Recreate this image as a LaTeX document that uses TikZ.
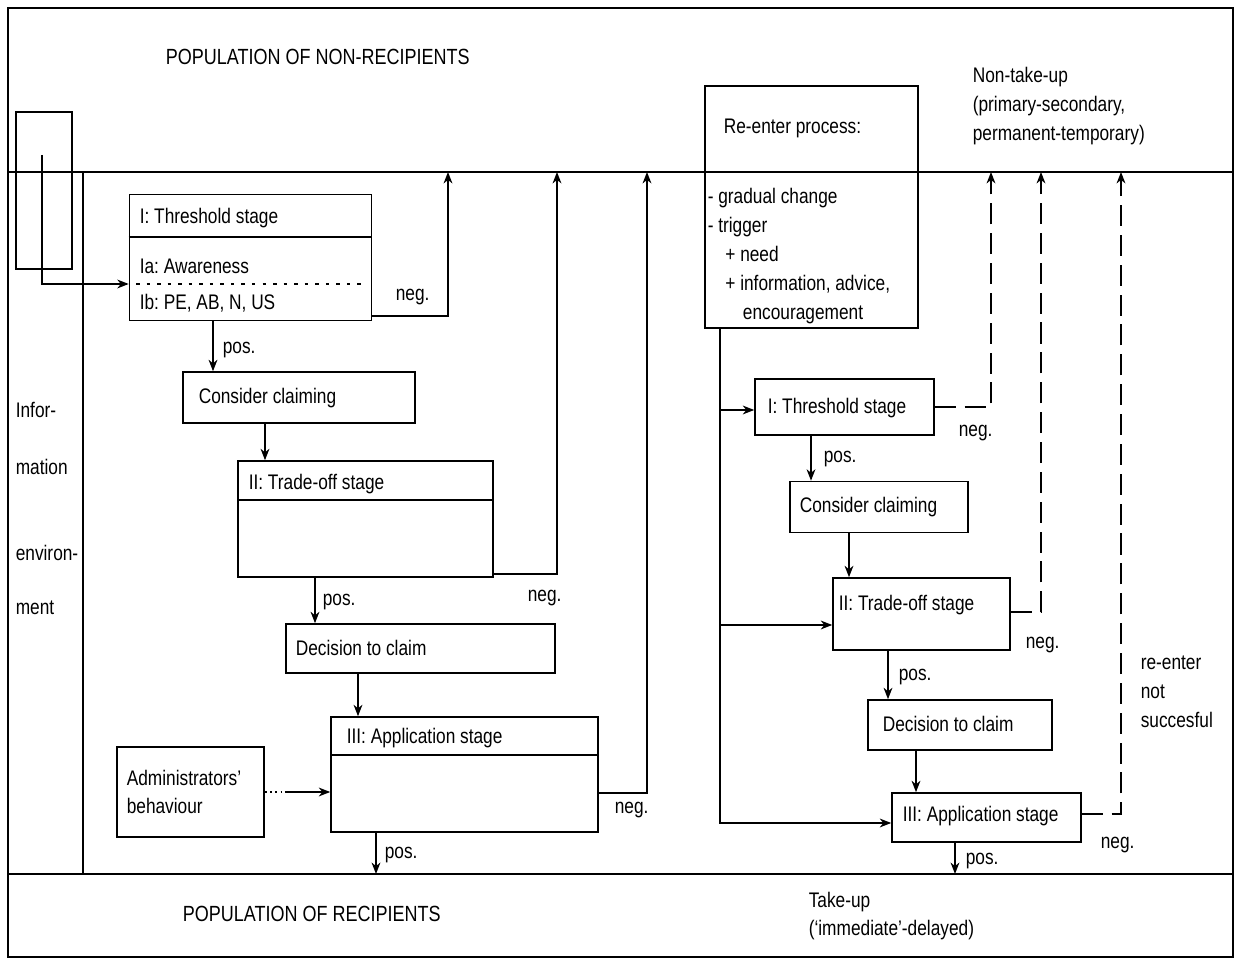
\documentclass[tikz,border=0pt]{standalone}
\usepackage{fontspec}
\setmainfont{Liberation Sans}[FakeStretch=0.82]
\usetikzlibrary{arrows.meta,positioning}

\tikzset{
  stage/.style={draw, inner sep=0pt},
  lbl/.style={anchor=west, inner sep=0pt, align=left},
  arr/.style={-{Stealth[length=6.5pt,width=5pt,inset=2pt]}},
  negline/.style={dash pattern=on 12pt off 5pt},
}

\begin{document}
\frenchspacing
\begin{tikzpicture}[x=0.02cm, y=-0.02cm, line width=0.9pt, font=\fontsize{12}{16.4}\selectfont]

\useasboundingbox (0,0) rectangle (1235,962);

% frame and bands
\draw (8,8) rectangle (1233,957);
\draw (8,172) -- (1233,172);
\draw (8,874) -- (1233,874);
\draw (83,172) -- (83,874);

\node[lbl] (nonrec) at (165,57) {\fontsize{12.5}{15}\selectfont POPULATION OF NON-RECIPIENTS};
\node[lbl] (rec) at (182,914) {\fontsize{12.5}{15}\selectfont POPULATION OF RECIPIENTS};
\node[lbl] (nontake) at (972,106) {Non-take-up\\(primary-secondary,\\permanent-temporary)};
\node[lbl] (takeup) at (808,916) {Take-up\\(`immediate'-delayed)};

% information environment
\node[lbl] (inf1) at (15,410) {Infor-};
\node[lbl] (inf2) at (15,467) {mation};
\node[lbl] (inf3) at (15,553) {environ-};
\node[lbl] (inf4) at (15,608) {ment};
\draw (16,112) rectangle (72,269);
\coordinate (src) at (42,155);

% left process
\node[stage, minimum width=4.84cm, minimum height=2.52cm] (th1) at (250.5,257.5) {};
\draw (th1.west |- 0,237) -- (th1.east |- 0,237);
\draw[dash pattern=on 2pt off 4pt] (136,284) -- (362,284);
\node[lbl] (th1h) at (139,218) {I: Threshold stage};
\node[lbl] (th1a) at (139,266) {Ia: Awareness};
\node[lbl] (th1b) at (139,303) {Ib: PE, AB, N, US};
\draw[arr] (src) |- (th1.west |- 0,284);

\node[stage, minimum width=4.64cm, minimum height=1.02cm] (cc1) at (299,397.5) {};
\node[lbl] (cc1t) at (198,398) {Consider claiming};

\node[stage, minimum width=5.1cm, minimum height=2.32cm] (to1) at (365.5,519) {};
\draw (to1.west |- 0,500) -- (to1.east |- 0,500);
\node[lbl] (to1h) at (248,484) {II: Trade-off stage};

\node[stage, minimum width=5.38cm, minimum height=0.98cm] (dc1) at (420.5,648.5) {};
\node[lbl] (dc1t) at (295,648) {Decision to claim};

\node[stage, minimum width=5.34cm, minimum height=2.3cm] (ap1) at (464.5,774.5) {};
\draw (ap1.west |- 0,755) -- (ap1.east |- 0,755);
\node[lbl] (ap1h) at (346,738) {III: Application stage};

\node[stage, minimum width=2.94cm, minimum height=1.8cm] (adm) at (190.5,792) {};
\node[lbl] (admt) at (126,792) {Administrators'\\behaviour};

\coordinate (up1) at (448,172);
\coordinate (up2) at (557,172);
\coordinate (up3) at (647,172);
\coordinate (dn1) at (376,874);

\draw[arr] (th1.east |- 0,316) -| (up1);
\draw[arr] (to1.east |- 0,574) -| (up2);
\draw[arr] (ap1.east |- 0,793) -| (up3);
\node[lbl] (neg1) at (395,297) {neg.};
\node[lbl] (neg2) at (527,598) {neg.};
\node[lbl] (neg3) at (614,810) {neg.};

\draw[arr] (th1.south -| 213,0) -- (cc1.north -| 213,0);
\draw[arr] (cc1.south -| 265,0) -- (to1.north -| 265,0);
\draw[arr] (to1.south -| 315,0) -- (dc1.north -| 315,0);
\draw[arr] (dc1.south -| 358,0) -- (ap1.north -| 358,0);
\draw[arr] (ap1.south -| 376,0) -- (dn1);
\draw[dash pattern=on 1pt off 2pt] (adm.east) -- ([xshift=0.4cm]adm.east);
\draw[arr] ([xshift=0.4cm]adm.east) -- (ap1.west |- adm.east);
\node[lbl] (pos1) at (222,350) {pos.};
\node[lbl] (pos2) at (322,602) {pos.};
\node[lbl] (pos3) at (384,855) {pos.};

% re-enter process
\node[stage, minimum width=4.26cm, minimum height=4.84cm] (re) at (811.5,207) {};
\node[lbl] (reh) at (723,128) {Re-enter process:};
\node[lbl] (rel) at (707,256) {- gradual change\\- trigger\\\hspace*{10pt}+ need\\\hspace*{10pt}+ information, advice,\\\hspace*{20pt}encouragement};

\node[stage, minimum width=3.58cm, minimum height=1.12cm] (th2) at (844.5,407) {};
\node[lbl] (th2t) at (767,408) {I: Threshold stage};
\node[stage, minimum width=3.56cm, minimum height=1.02cm] (cc2) at (879,507) {};
\node[lbl] (cc2t) at (799,507) {Consider claiming};
\node[stage, minimum width=3.54cm, minimum height=1.44cm] (to2) at (921.5,614) {};
\node[lbl] (to2h) at (838,605) {II: Trade-off stage};
\node[stage, minimum width=3.68cm, minimum height=1.0cm] (dc2) at (960,725) {};
\node[lbl] (dc2t) at (882,724) {Decision to claim};
\node[stage, minimum width=3.78cm, minimum height=0.98cm] (ap2) at (986.5,817.5) {};
\node[lbl] (ap2t) at (902,816) {III: Application stage};

\coordinate (b1) at (720,410);
\coordinate (b2) at (720,625);
\draw[arr] (re.south -| 720,0) |- (ap2.west |- 0,823);
\draw[arr] (b1) -- (th2.west |- b1);
\draw[arr] (b2) -- (to2.west |- b2);

\draw[arr] (th2.south -| 811,0) -- (cc2.north -| 811,0);
\draw[arr] (cc2.south -| 849,0) -- (to2.north -| 849,0);
\draw[arr] (to2.south -| 888,0) -- (dc2.north -| 888,0);
\draw[arr] (dc2.south -| 916,0) -- (ap2.north -| 916,0);
\coordinate (dn2) at (955,874);
\draw[arr] (ap2.south -| 955,0) -- (dn2);
\node[lbl] (pos4) at (823,459) {pos.};
\node[lbl] (pos5) at (898,677) {pos.};
\node[lbl] (pos6) at (965,861) {pos.};

\coordinate (up4) at (991,172);
\coordinate (up5) at (1041,172);
\coordinate (up6) at (1121,172);
\draw[arr, negline] (th2.east) -| (up4);
\draw[arr, negline] (to2.east |- 0,612) -| (up5);
\draw[arr, negline] (ap2.east |- 0,814) -| (up6);
\node[lbl] (neg4) at (958,433) {neg.};
\node[lbl] (neg5) at (1025,645) {neg.};
\node[lbl] (neg6) at (1100,845) {neg.};
\node[lbl] (notok) at (1140,692) {re-enter\\not\\succesful};

\end{tikzpicture}
\end{document}
